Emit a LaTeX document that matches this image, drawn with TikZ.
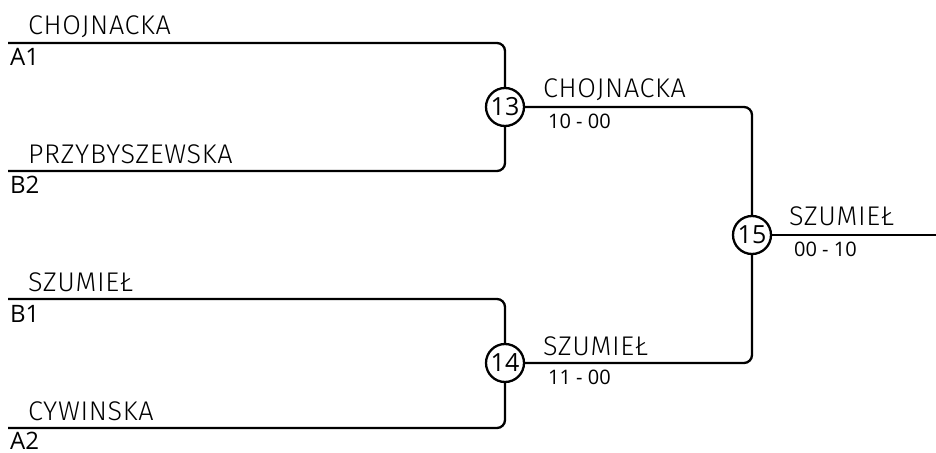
\documentclass[tikz,border=0pt]{standalone}
\usepackage{fontspec}
\usepackage{tikz}
\usetikzlibrary{calc,positioning}
\setmainfont{Open Sans}
\newfontfamily\namefont{Fira Sans Light}[LetterSpace=2.5]

\begin{document}
\begin{tikzpicture}[x=1pt, y=-1pt, line width=2.3pt,
      player/.style={anchor=base west, inner sep=0pt, font=\namefont\fontsize{27}{27}\selectfont},
      seed/.style={anchor=base west, inner sep=0pt, font=\fontsize{24}{24}\selectfont},
      score/.style={anchor=base west, inner sep=0pt, font=\fontsize{20}{20}\selectfont},
      match/.style={circle, draw, line width=2.3pt, fill=white, minimum size=38pt, inner sep=0pt, font=\fontsize{25}{25}\selectfont},
      bracket/.style={draw, line width=2.3pt, rounded corners=8pt}]
      \useasboundingbox (0,0) rectangle (936,452);
      % first round
      \coordinate (a1) at (8,43);
      \coordinate (b2) at (8,171);
      \coordinate (b1) at (8,299);
      \coordinate (a2) at (8,428);
      \node (m13) at (505,107) [match] {13};
      \node (m14) at (505,363) [match] {14};
      \node (m15) at (752,235) [match] {15};
      \coordinate (final) at (936,235);
      \node[player] (p1) at (27,35) {CHOJNACKA};
      \node[seed] (s1) at (9,65) {A1};
      \node[player] (p2) at (27,163) {PRZYBYSZEWSKA};
      \node[seed] (s2) at (9,193) {B2};
      \node[player] (p3) at (27,291) {SZUMIEŁ};
      \node[seed] (s3) at (9,322) {B1};
      \node[player] (p4) at (27,420) {CYWINSKA};
      \node[seed] (s4) at (9,449) {A2};
      \draw[bracket] (a1) -| (m13);
      \draw[bracket] (b2) -| (m13);
      \draw[bracket] (b1) -| (m14);
      \draw[bracket] (a2) -| (m14);
      % second round
      \node[player] (w13) at (542,97) {CHOJNACKA};
      \node[score] (r13) at (547,128) {10 - 00};
      \node[player] (w14) at (542,355) {SZUMIEŁ};
      \node[score] (r14) at (547,384) {11 - 00};
      \draw[bracket] (m13) -| (m15);
      \draw[bracket] (m14) -| (m15);
      % final
      \node[player] (w15) at (788,225) {SZUMIEŁ};
      \node[score] (r15) at (793,256) {00 - 10};
      \draw[bracket] (m15) -- (final);
  \end{tikzpicture}
\end{document}
